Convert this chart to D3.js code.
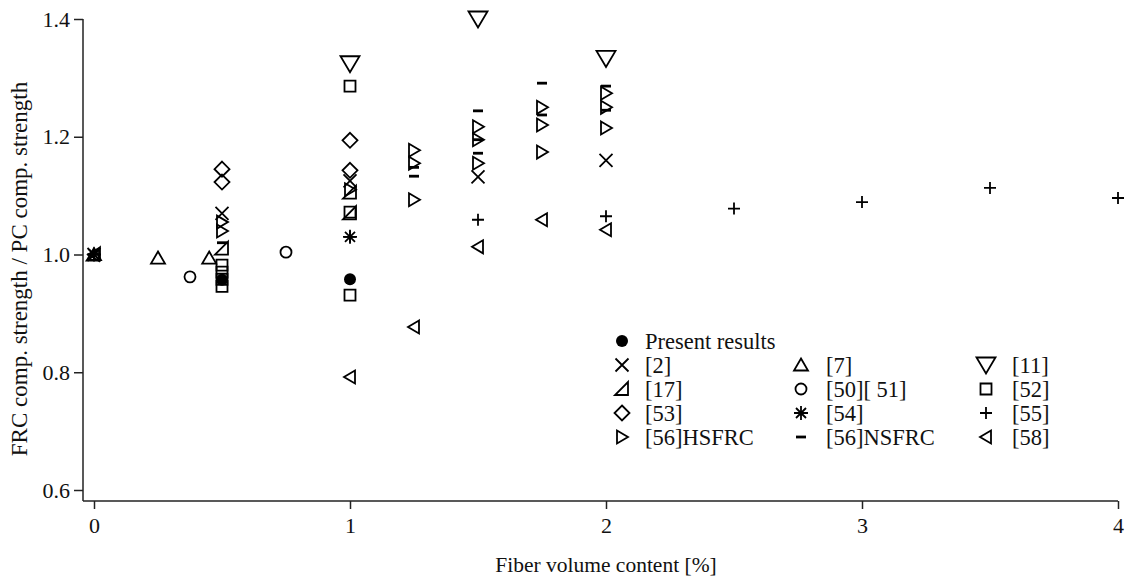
<!DOCTYPE html>
<html>
<head>
<meta charset="utf-8">
<script src="https://cdn.jsdelivr.net/npm/d3@7"></script>
<style>
  html, body { margin: 0; padding: 0; background: #fff; }
  svg text { font-family: "Liberation Serif", "DejaVu Serif", serif; fill: #111; }
</style>
</head>
<body>
<svg id="chart" width="1128" height="578"></svg>
<script>
// ---------- data ----------
const seriesNames = ["Present results", "[2]", "[7]", "[11]", "[17]", "[50][ 51]", "[52]", "[53]", "[54]", "[55]", "[56]HSFRC", "[56]NSFRC", "[58]"];
const seriesShapes = ["dot", "cross", "triUp", "triDown", "rightTri", "circle", "square", "diamond", "star", "plus", "triRight", "dash", "triLeft"];

const presentX = [0.5, 1];
const presentY = [0.957, 0.958];
const ref2X = [0, 0.5, 1, 1.5, 2];
const ref2Y = [1.0, 1.07, 1.125, 1.132, 1.16];
const ref7X = [0, 0.25, 0.45];
const ref7Y = [1.0, 0.994, 0.994];
const ref11X = [1, 1.5, 2];
const ref11Y = [1.324, 1.4, 1.333];
const ref17X = [0, 0.5, 1, 1];
const ref17Y = [1.0, 1.01, 1.105, 1.07];
const ref50X = [0.375, 0.75];
const ref50Y = [0.962, 1.004];
const ref52X = [0.5, 0.5, 0.5, 0.5, 1, 1, 1];
const ref52Y = [0.982, 0.97, 0.958, 0.946, 1.286, 1.072, 0.931];
const ref53X = [0.5, 0.5, 1, 1];
const ref53Y = [1.145, 1.123, 1.194, 1.143];
const ref54X = [0, 1];
const ref54Y = [1.0, 1.03];
const ref55X = [0, 1, 1.5, 2, 2.5, 3, 3.5, 4];
const ref55Y = [1.0, 1.03, 1.059, 1.065, 1.078, 1.089, 1.113, 1.096];
const ref56hX = [0.5, 0.5, 1, 1.25, 1.25, 1.25, 1.5, 1.5, 1.5, 1.75, 1.75, 1.75, 2, 2, 2];
const ref56hY = [1.055, 1.04, 1.11, 1.177, 1.155, 1.093, 1.217, 1.195, 1.155, 1.25, 1.22, 1.174, 1.274, 1.25, 1.215];
const ref56nX = [0.5, 1.25, 1.25, 1.5, 1.5, 1.5, 1.75, 1.75, 2, 2];
const ref56nY = [1.02, 1.148, 1.133, 1.244, 1.195, 1.172, 1.291, 1.237, 1.286, 1.245];
const ref58X = [0, 1, 1.25, 1.5, 1.75, 2];
const ref58Y = [1.0, 0.792, 0.877, 1.013, 1.059, 1.042];

const seriesX = [presentX, ref2X, ref7X, ref11X, ref17X, ref50X, ref52X, ref53X, ref54X, ref55X, ref56hX, ref56nX, ref58X];
const seriesY = [presentY, ref2Y, ref7Y, ref11Y, ref17Y, ref50Y, ref52Y, ref53Y, ref54Y, ref55Y, ref56hY, ref56nY, ref58Y];

const xTicks = [0, 1, 2, 3, 4];
const yTicks = [0.6, 0.8, 1.0, 1.2, 1.4];
const xTitle = "Fiber volume content [%]";
const yTitle = "FRC comp. strength / PC comp. strength";

// legend layout: [series index, column, row]
const legendOrder = [[0,0,0],[1,0,1],[2,1,1],[3,2,1],[4,0,2],[5,1,2],[6,2,2],[7,0,3],[8,1,3],[9,2,3],[10,0,4],[11,1,4],[12,2,4]];

// ---------- layout ----------
const svg = d3.select("#chart");
const x = d3.scaleLinear().domain([0, 4]).range([94, 1118]);
const y = d3.scaleLinear().domain([0.6, 1.4]).range([490, 19]);
const axisX0 = 83, axisY0 = 501;
const SW = 1.8;

function markerPath(type) {
  const p = d3.path();
  switch (type) {
    case "cross": p.moveTo(-6.5,-6.5); p.lineTo(6.5,6.5); p.moveTo(-6.5,6.5); p.lineTo(6.5,-6.5); break;
    case "triUp": p.moveTo(0,-6.5); p.lineTo(7,5.5); p.lineTo(-7,5.5); p.closePath(); break;
    case "triDown": p.moveTo(-9.5,-7.5); p.lineTo(9.5,-7.5); p.lineTo(0,8.5); p.closePath(); break;
    case "rightTri": p.moveTo(-7,6); p.lineTo(6,6); p.lineTo(6,-7); p.closePath(); break;
    case "square": p.rect(-5.5,-5.5,11,11); break;
    case "diamond": p.moveTo(0,-7.5); p.lineTo(7.5,0); p.lineTo(0,7.5); p.lineTo(-7.5,0); p.closePath(); break;
    case "star": p.moveTo(0,-7); p.lineTo(0,7); p.moveTo(-7,0); p.lineTo(7,0); p.moveTo(-5,-5); p.lineTo(5,5); p.moveTo(-5,5); p.lineTo(5,-5); break;
    case "plus": p.moveTo(0,-6); p.lineTo(0,6); p.moveTo(-6,0); p.lineTo(6,0); break;
    case "triRight": p.moveTo(-5,-6.5); p.lineTo(6,0); p.lineTo(-5,6.5); p.closePath(); break;
    case "triLeft": p.moveTo(5,-6.5); p.lineTo(-6,0); p.lineTo(5,6.5); p.closePath(); break;
    case "dash": p.moveTo(-5,0); p.lineTo(5,0); break;
  }
  return p.toString();
}
function drawMarker(g, type) {
  if (type === "dot") {
    g.append("circle").attr("r", 6).attr("fill", "#000");
  } else if (type === "circle") {
    g.append("circle").attr("r", 5.5).attr("fill", "none").attr("stroke", "#000").attr("stroke-width", SW);
  } else {
    g.append("path").attr("d", markerPath(type)).attr("fill", "none")
      .attr("stroke", "#000").attr("stroke-width", type === "dash" ? 2.8 : SW)
      .attr("stroke-linejoin", "miter");
  }
}

// ---------- axes ----------
svg.append("line").attr("x1", axisX0).attr("x2", axisX0).attr("y1", y(1.4)).attr("y2", axisY0)
  .attr("stroke", "#222").attr("stroke-width", 1.5);
svg.append("line").attr("x1", axisX0).attr("x2", x(4)).attr("y1", axisY0).attr("y2", axisY0)
  .attr("stroke", "#222").attr("stroke-width", 1.5);

const yAxis = d3.axisLeft(y).tickValues(yTicks).tickFormat(d3.format(".1f")).tickSize(9).tickPadding(4);
const gy = svg.append("g").attr("transform", `translate(${axisX0},0)`).call(yAxis);
gy.select(".domain").remove();
gy.selectAll(".tick line").attr("stroke", "#222").attr("stroke-width", 1.5);
gy.selectAll(".tick text").attr("font-size", 22).attr("fill", "#111");

const xAxis = d3.axisBottom(x).tickValues(xTicks).tickFormat(d3.format("d")).tickSize(8).tickPadding(8);
const gx = svg.append("g").attr("transform", `translate(0,${axisY0})`).call(xAxis);
gx.select(".domain").remove();
gx.selectAll(".tick line").attr("stroke", "#222").attr("stroke-width", 1.5);
gx.selectAll(".tick text").attr("font-size", 22).attr("fill", "#111");

svg.append("text").attr("x", 606).attr("y", 572).attr("text-anchor", "middle")
  .attr("font-size", 21.5).text(xTitle);
svg.append("text").attr("transform", "translate(27,269) rotate(-90)").attr("text-anchor", "middle")
  .attr("font-size", 23).text(yTitle);

// ---------- points ----------
const plot = svg.append("g");
seriesNames.forEach((name, i) => {
  const pts = seriesX[i].map((xv, j) => [xv, seriesY[i][j]]);
  plot.selectAll(null).data(pts).enter().append("g")
    .attr("transform", d => `translate(${x(d[0])},${y(d[1])})`)
    .each(function() { drawMarker(d3.select(this), seriesShapes[i]); });
});

// ---------- legend ----------
const colMarker = [622, 801, 986];
const colText = [645, 826, 1012];
const rowY = [341, 365, 389, 413, 437];
const leg = svg.append("g");
legendOrder.forEach(([si, c, r]) => {
  const g = leg.append("g").attr("transform", `translate(${colMarker[c]},${rowY[r]})`);
  drawMarker(g, seriesShapes[si]);
  leg.append("text").attr("x", colText[c]).attr("y", rowY[r]).attr("dy", "0.35em")
    .attr("font-size", 22.5).text(seriesNames[si]);
});
</script>
</body>
</html>
